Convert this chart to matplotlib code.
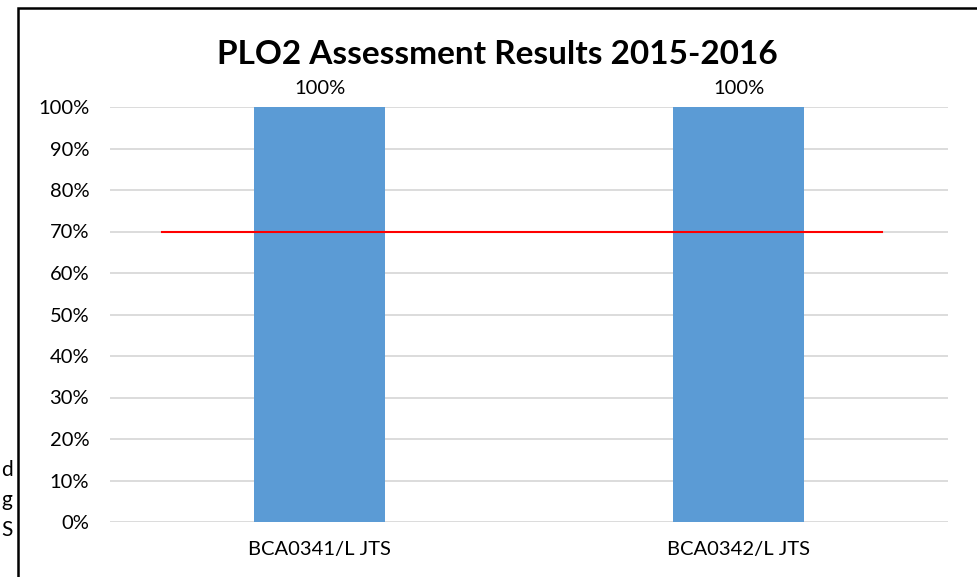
import matplotlib.pyplot as plt
from matplotlib.patches import Rectangle

courses = ["BCA0341/L JTS", "BCA0342/L JTS"]
scores = [1.0, 1.0]
target = 0.7
target_span = [-0.376, 1.342]  # Ausdehnung der Ziellinie (Kategorie-Einheiten)
yticks = [i / 10 for i in range(11)]

plt.rcParams['font.family'] = ['Lato', 'DejaVu Sans']

W, H = 977, 577
fig = plt.figure(figsize=(W / 100, H / 100), dpi=100)

# Plotbereich in Pixeln
left, right, top, bottom = 110, 948, 107, 522
ax = fig.add_axes([left / W, 1 - bottom / H, (right - left) / W, (bottom - top) / H])

x = list(range(len(courses)))
ax.bar(x, scores, width=0.313, color="#5b9bd5", zorder=2)
ax.plot(target_span, [target, target], color="#ff0000", lw=1.5, zorder=3)

for xi, v in zip(x, scores):
    ax.text(xi, v + 0.025, f"{v:.0%}", ha="center", va="bottom", fontsize=14.5)

ax.set_xlim(-0.5, len(courses) - 0.5)
ax.set_ylim(0, 1)
ax.set_yticks(yticks)
ax.set_yticklabels([f"{t:.0%}" for t in yticks], fontsize=14.5)
ax.set_xticks(x)
ax.set_xticklabels(courses, fontsize=14.5)
ax.tick_params(axis="y", length=0, pad=15)
ax.tick_params(axis="x", length=0, pad=14)
ax.yaxis.grid(True, color="#d9d9d9", lw=1.3)
ax.set_axisbelow(True)
for s in ax.spines.values():
    s.set_visible(False)

fig.text(497 / W, 1 - 54 / H, "PLO2 Assessment Results 2015-2016",
         ha="center", va="center", fontsize=24, fontweight="bold")

# Rahmen des Diagramms (angeschnitten)
fig.patches.append(Rectangle((18 / W, -0.1), 1.2, 1 - 8 / H + 0.1,
                             transform=fig.transFigure, fill=False,
                             ec="black", lw=1.8))

# Textreste links vom Rahmen
for yy, s in zip([470, 500, 530], ["d", "g", "S"]):
    fig.text(1 / W, 1 - yy / H, s, ha="left", va="center", fontsize=15)

plt.savefig("out.png", dpi=100)
